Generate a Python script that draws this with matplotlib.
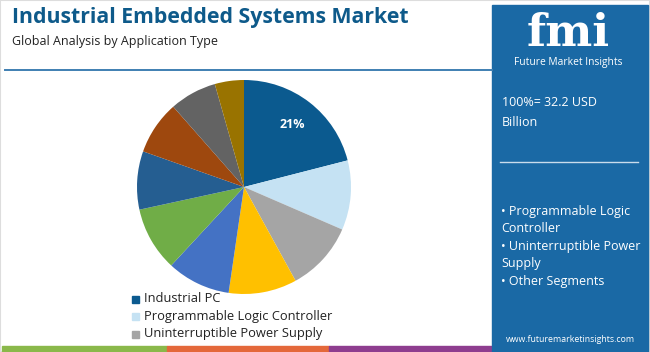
import numpy as np
import matplotlib.pyplot as plt
from matplotlib.patches import Rectangle

# data
segments = ['Industrial PC', 'Programmable Logic Controller', 'Uninterruptible Power Supply',
            'Seg 4', 'Seg 5', 'Seg 6', 'Seg 7', 'Seg 8', 'Seg 9', 'Seg 10']
shares = [21.0, 10.5, 10.5, 10.3, 9.6, 9.7, 8.8, 8.1, 7.1, 4.4]
colors = ['#0b5a8f', '#c5e2f3', '#a5a5a5', '#ffc000', '#4472c4',
          '#70ad47', '#255e91', '#9e480e', '#636363', '#997300']
legend_items = segments[:3]
panel_lines = ['\u2022 Programmable Logic', 'Controller', '\u2022 Uninterruptible Power',
               'Supply', '\u2022 Other Segments']

W, H = 650, 352
fig = plt.figure(figsize=(W / 100, H / 100), dpi=100)
fig.patch.set_facecolor('white')

def fx(x):
    return x / W

def fy(y):
    return 1 - y / H

# thin frame
fig.add_artist(Rectangle((0, 0), 1, 1, fill=False, ec='#dddddd', lw=1.5,
                         transform=fig.transFigure))

# title block
fig.text(fx(12), fy(18), 'Industrial Embedded Systems Market', fontsize=15.3, fontweight='bold',
         color='#0e5a8a', va='center', family='Open Sans')
fig.text(fx(12), fy(41), 'Global Analysis by Application Type', fontsize=9,
         color='#222222', va='center', family='Open Sans')
fig.add_artist(plt.Line2D([fx(5), fx(492)], [fy(70), fy(70)], color='#3f7fb2', lw=1.4))

# pie
cx, cy, r = 244, 187, 107
ax = fig.add_axes([fx(cx - r), fy(cy + r), 2 * r / W, 2 * r / H])
wedges, _ = ax.pie(shares, colors=colors, startangle=90, counterclock=False,
                   wedgeprops=dict(linewidth=0))
ax.set_aspect('auto')
ax.set_xlim(-1, 1)
ax.set_ylim(-1, 1)
ax.text(0.45, 0.58, '21%', color='white', fontsize=9, fontweight='bold',
        ha='center', va='center', family='Open Sans')

# legend
for i, lab in enumerate(legend_items):
    y = 299 + i * 17.5
    fig.add_artist(Rectangle((fx(132), fy(y + 3.5)), 7 / W, 7 / H, color=colors[i],
                             transform=fig.transFigure))
    fig.text(fx(144), fy(y), lab, fontsize=9.3, color='#222222', va='center', family='Open Sans')

# bottom strip
for x0, x1, c in [(2, 167, '#8ab84a'), (167, 329, '#e4683a'), (329, 492, '#8e3d8f')]:
    fig.add_artist(Rectangle((fx(x0), fy(351)), (x1 - x0) / W, 5 / H, color=c,
                             transform=fig.transFigure))

# right panel
fig.add_artist(Rectangle((fx(492), fy(352)), 156 / W, 347 / H, color='#1a69a5',
                         transform=fig.transFigure))
fig.text(fx(568), fy(46), 'fmi', fontsize=32, fontweight='bold', color='white',
         ha='center', va='baseline', family='DejaVu Serif')
fig.text(fx(568), fy(63), 'Future Market Insights', fontsize=7.4, color='white',
         ha='center', va='center', family='Open Sans')
fig.text(fx(502), fy(103), '100%= 32.2 USD', fontsize=9, color='white', va='center',
         family='Open Sans')
fig.text(fx(502), fy(123), 'Billion', fontsize=9, color='white', va='center', family='Open Sans')
fig.add_artist(plt.Line2D([fx(500), fx(638)], [fy(162), fy(162)], color='#c9dcec', lw=1))
for i, t in enumerate(panel_lines):
    fig.text(fx(501), fy(211 + i * 17.6), t, fontsize=9, color='white', va='center',
             family='Open Sans')
fig.text(fx(570), fy(339), 'www.futuremarketinsights.com', fontsize=6.3, color='white',
         ha='center', va='center', family='Open Sans')

fig.savefig('out.png', dpi=100)
